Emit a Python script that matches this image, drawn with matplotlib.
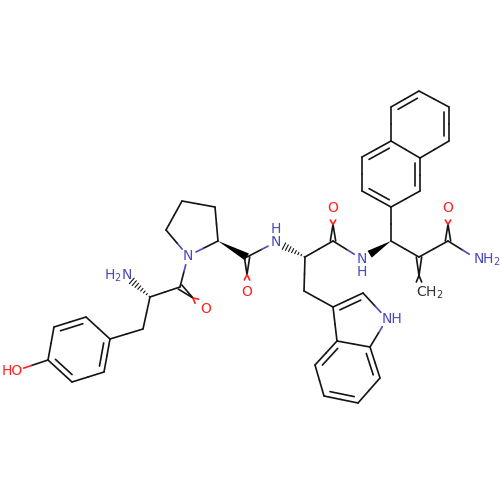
import numpy as np
import matplotlib
matplotlib.use('Agg')
import matplotlib.pyplot as plt

plt.rcParams['font.family'] = ['DejaVu Sans']
plt.rcParams['mathtext.fontset'] = 'dejavusans'

BLUE = '#4a4ab8'
RED = '#ff2020'
INK = '#141414'

# atom positions
atoms = {
    # tyrosine
    'y1': (48, 360), 'y2': (54, 327), 'y3': (86, 317), 'y4': (110, 339), 'y5': (104, 372), 'y6': (72, 382),
    'OH': (15, 371), 'yb': (143, 329), 'ya': (150, 297), 'yN': (125, 275), 'yC': (180, 287), 'yO': (206, 309),
    # proline
    'pN': (188, 256), 'p1': (166, 230), 'p2': (182, 201), 'p3': (215, 207), 'pa': (218, 241),
    'pC': (247, 257), 'pO': (247, 292),
    # tryptophan
    'wN': (276, 242), 'wa': (305, 257), 'wb': (304, 291), 'wC': (333, 241), 'wO': (333, 208),
    'i3': (333, 307), 'i2': (363, 293), 'iN': (387, 319), 'i7a': (370, 347), 'i3a': (337, 341),
    'i4': (315, 365), 'i5': (324, 396), 'i6': (358, 403), 'i7': (380, 378),
    # naphthyl part
    'aN': (362, 259), 'aa': (391, 241), 'n1': (391, 207), 'n2': (362, 191), 'n3': (362, 157),
    'n4': (391, 141), 'n5': (391, 107), 'n6': (419, 91), 'n7': (449, 107), 'n8': (449, 141),
    'n9': (420, 158), 'n10': (420, 191),
    'v': (419, 257), 'CH2': (419, 294), 'aC': (448, 241), 'aO': (448, 208), 'aNH2': (477, 259),
}

atom_colors = {'OH': RED, 'yO': RED, 'pO': RED, 'wO': RED, 'aO': RED,
               'yN': BLUE, 'pN': BLUE, 'wN': BLUE, 'iN': BLUE, 'aN': BLUE, 'aNH2': BLUE}

single_bonds = [
    ('y2', 'y3'), ('y1', 'y2'), ('y3', 'y4'), ('y4', 'y5'), ('y5', 'y6'), ('y6', 'y1'), ('y1', 'OH'),
    ('y4', 'yb'), ('yb', 'ya'), ('ya', 'yC'), ('yC', 'pN'),
    ('pN', 'p1'), ('p1', 'p2'), ('p2', 'p3'), ('p3', 'pa'), ('pa', 'pN'),
    ('pC', 'wN'), ('wa', 'wb'), ('wa', 'wC'), ('wC', 'aN'), ('wb', 'i3'),
    ('i3', 'i2'), ('i2', 'iN'), ('iN', 'i7a'), ('i7a', 'i3a'), ('i3a', 'i3'),
    ('i3a', 'i4'), ('i4', 'i5'), ('i5', 'i6'), ('i6', 'i7'), ('i7', 'i7a'),
    ('aa', 'n1'), ('n1', 'n2'), ('n2', 'n3'), ('n3', 'n4'), ('n4', 'n5'), ('n5', 'n6'),
    ('n6', 'n7'), ('n7', 'n8'), ('n8', 'n9'), ('n9', 'n4'), ('n9', 'n10'), ('n10', 'n1'),
    ('aa', 'v'), ('v', 'aC'), ('aC', 'aNH2'),
]

# second line drawn on the side of the third atom
ring_doubles = [
    ('y2', 'y3', 'y5'), ('y4', 'y5', 'y2'), ('y1', 'y6', 'y3'),
    ('i3', 'i2', 'i7a'), ('i3a', 'i4', 'i6'), ('i5', 'i6', 'i3a'), ('i7', 'i7a', 'i5'),
    ('n5', 'n6', 'n9'), ('n7', 'n8', 'n5'), ('n9', 'n10', 'n2'), ('n3', 'n4', 'n10'), ('n1', 'n2', 'n9'),
]
side_doubles = [('yC', 'yO'), ('pC', 'pO'), ('wC', 'wO'), ('aC', 'aO'), ('v', 'CH2')]

wedge_bonds = [('pa', 'pC'), ('aa', 'aN')]
hash_bonds = [('ya', 'yN'), ('wa', 'wN')]

# text, x, y, ha, colour
labels = [
    ('HO', 2, 371, 'left', RED),
    ('H$_2$N', 104, 276, 'left', BLUE),
    ('O', 206, 309, 'center', RED),
    ('N', 188, 256, 'center', BLUE),
    ('O', 247, 292, 'center', RED),
    ('N', 276, 242, 'center', BLUE),
    ('H', 276, 229, 'center', BLUE),
    ('O', 333, 208, 'center', RED),
    ('NH', 382, 319, 'left', BLUE),
    ('N', 362, 259, 'center', BLUE),
    ('H', 362, 272, 'center', BLUE),
    ('O', 448, 208, 'center', RED),
    ('NH$_2$', 473, 260, 'left', BLUE),
    ('CH$_2$', 416, 293, 'left', '#303030'),
]

TRIM = 9
DOUBLE_TRIM = 12
LW = 1.2


def trimmed(a, b, gap=TRIM):
    # pull bond ends back from any atom that carries a label
    pa, pb = np.array(atoms[a], float), np.array(atoms[b], float)
    u = (pb - pa) / np.linalg.norm(pb - pa)
    start = pa + u * gap if a in atom_colors or a == 'CH2' else pa
    end = pb - u * gap if b in atom_colors or b == 'CH2' else pb
    return start, end


def two_tone(ax, a, b, start, end):
    mid = (np.array(atoms[a], float) + np.array(atoms[b], float)) / 2
    ax.plot(*zip(start, mid), color=atom_colors.get(a, INK), lw=LW, solid_capstyle='round')
    ax.plot(*zip(mid, end), color=atom_colors.get(b, INK), lw=LW, solid_capstyle='round')


fig = plt.figure(figsize=(5, 5), dpi=100)
ax = fig.add_axes([0, 0, 1, 1])
ax.set_xlim(0, 500)
ax.set_ylim(500, 0)
ax.axis('off')

for a, b in single_bonds:
    s, e = trimmed(a, b)
    two_tone(ax, a, b, s, e)

for a, b, toward in ring_doubles:
    pa, pb, pc = [np.array(atoms[k], float) for k in (a, b, toward)]
    ux = (pb - pa) / np.linalg.norm(pb - pa)
    n = np.array([-ux[1], ux[0]])
    if np.dot(pc - pa, n) < 0:
        n = -n
    s = pa + n * 5.5 + ux * 5
    e = pb + n * 5.5 - ux * 5
    ax.plot(*zip(s, e), color=INK, lw=LW, solid_capstyle='round')

for a, b in side_doubles:
    s, e = trimmed(a, b, DOUBLE_TRIM)
    ux = (e - s) / np.linalg.norm(e - s)
    n = np.array([-ux[1], ux[0]]) * 2.7
    two_tone(ax, a, b, s + n, e + n)
    two_tone(ax, a, b, s - n, e - n)

for a, b in wedge_bonds:
    s, e = trimmed(a, b)
    ux = (e - s) / np.linalg.norm(e - s)
    n = np.array([-ux[1], ux[0]]) * 4
    ax.fill(*zip(s, e + n, e - n), color='black', lw=0)

for a, b in hash_bonds:
    s, e = trimmed(a, b)
    ux = (e - s) / np.linalg.norm(e - s)
    n = np.array([-ux[1], ux[0]])
    for t in np.linspace(0.04, 1, 8):
        p = s + (e - s) * t
        ax.plot(*zip(p - n * 3.5 * t, p + n * 3.5 * t), color=INK, lw=0.8)

for text, x, y, ha, col in labels:
    ax.text(x, y, text, ha=ha, va='center', color=col, fontsize=10)

fig.savefig('out.png', dpi=100, facecolor='white')
